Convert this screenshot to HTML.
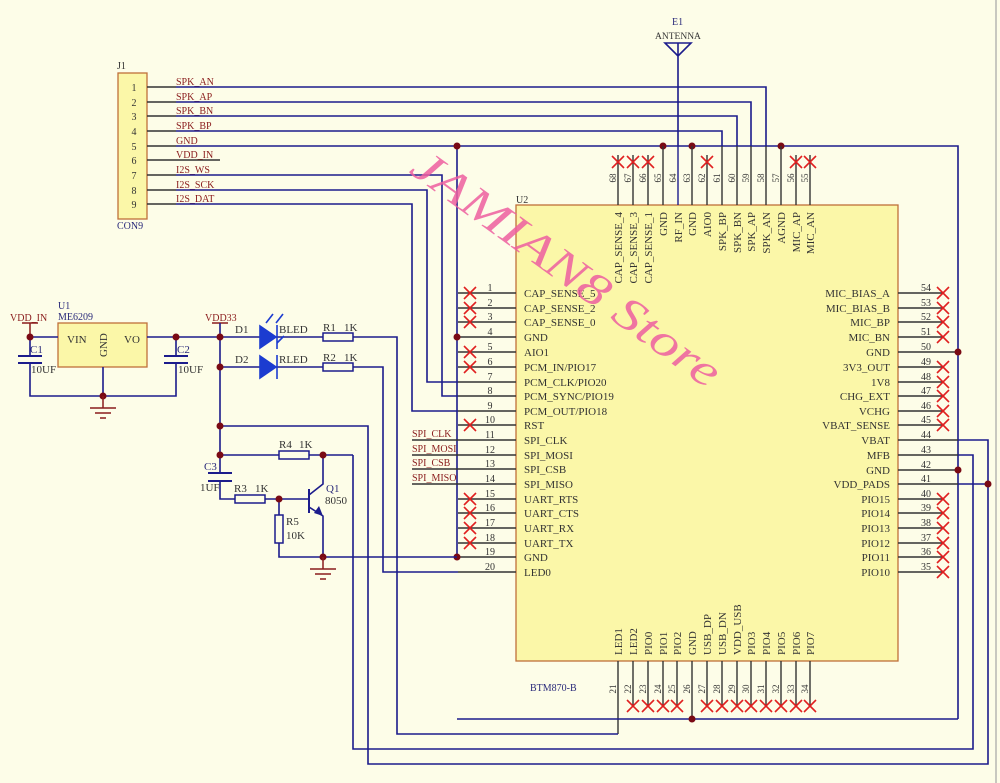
<!DOCTYPE html>
<html><head><meta charset="utf-8"><style>
html,body{margin:0;padding:0;background:#fdfde8;}
svg{display:block;font-family:"Liberation Serif",serif;}
.w{stroke:#1c1c8c;stroke-width:1.6;fill:none}
.p{stroke:#333;stroke-width:1.4;fill:none}
.n{font-size:10px;fill:#333}
.l{font-size:10px;fill:#8a1c1c}
.t{font-size:11px;fill:#333}
.x{stroke:#e02020;stroke-width:1.6}
.d{fill:#7a0a14}
</style></head><body>
<svg width="1000" height="783" viewBox="0 0 1000 783" xmlns="http://www.w3.org/2000/svg">
<defs>
<g id="X"><line class="x" x1="-6" y1="-6" x2="6" y2="6"/><line class="x" x1="-6" y1="6" x2="6" y2="-6"/></g>
<g id="G"><line x1="0" y1="0" x2="0" y2="12" stroke="#8a1c1c" stroke-width="1.5"/><line x1="-13" y1="12" x2="13" y2="12" stroke="#8a1c1c" stroke-width="1.5"/><line x1="-8" y1="17" x2="8" y2="17" stroke="#8a1c1c" stroke-width="1.5"/><line x1="-3" y1="22" x2="3" y2="22" stroke="#8a1c1c" stroke-width="1.5"/></g>
</defs>

<!-- J1 -->
<text x="117" y="69" class="t" style="font-size:10px">J1</text>
<rect x="118" y="73" width="29" height="146" fill="#fbf7a8" stroke="#c0703a" stroke-width="1.3"/>
<text x="117" y="229" class="t" style="font-size:10px;fill:#2a2a7a">CON9</text>
<g class="n" text-anchor="middle">
<text x="134" y="91">1</text><text x="134" y="106">2</text><text x="134" y="120">3</text><text x="134" y="135">4</text><text x="134" y="150">5</text><text x="134" y="164">6</text><text x="134" y="179">7</text><text x="134" y="194">8</text><text x="134" y="208">9</text>
</g>
<g class="p"><line x1="147" y1="87" x2="176" y2="87"/><line x1="147" y1="102" x2="176" y2="102"/><line x1="147" y1="116" x2="176" y2="116"/><line x1="147" y1="131" x2="176" y2="131"/><line x1="147" y1="146" x2="176" y2="146"/><line x1="147" y1="160" x2="220" y2="160"/><line x1="147" y1="175" x2="176" y2="175"/><line x1="147" y1="190" x2="176" y2="190"/><line x1="147" y1="204" x2="176" y2="204"/></g>
<g class="l">
<text x="176" y="85">SPK_AN</text><text x="176" y="100">SPK_AP</text><text x="176" y="114">SPK_BN</text><text x="176" y="129">SPK_BP</text><text x="176" y="144">GND</text><text x="176" y="158">VDD_IN</text><text x="176" y="173">I2S_WS</text><text x="176" y="188">I2S_SCK</text><text x="176" y="202">I2S_DAT</text>
</g>
<path class="w" d="M176 87H766V146 M176 102H751V146 M176 116H737V146 M176 131H722V146 M176 146H958V719 M176 175H442V396H458 M176 190H427V382H458 M176 204H412V411H458"/>
<path class="w" d="M457 146V557"/>
<circle class="d" cx="457" cy="146" r="3.5"/><circle class="d" cx="663" cy="146" r="3.5"/><circle class="d" cx="692" cy="146" r="3.5"/><circle class="d" cx="781" cy="146" r="3.5"/>

<!-- antenna -->
<text x="672" y="25" class="t" style="font-size:10px;fill:#2a2a7a">E1</text>
<text x="655" y="39" class="t" style="font-size:9.5px">ANTENNA</text>
<path class="w" d="M665 43H691L678 56Z M678 43V146"/>

<!-- U2 -->
<text x="516" y="203" class="t" style="font-size:10px">U2</text>
<rect x="516" y="205" width="382" height="456" fill="#fbf7a8" stroke="#c0703a" stroke-width="1.3"/>
<text x="530" y="691" style="font-size:10px;fill:#2a2a7a">BTM870-B</text>

<!-- top pins -->
<g class="p">
<line x1="618" y1="155" x2="618" y2="205"/><line x1="633" y1="155" x2="633" y2="205"/><line x1="648" y1="155" x2="648" y2="205"/><line x1="663" y1="146" x2="663" y2="205"/><line x1="678" y1="146" x2="678" y2="205" stroke="#1c1c8c"/><line x1="692" y1="146" x2="692" y2="205"/><line x1="707" y1="155" x2="707" y2="205"/><line x1="722" y1="146" x2="722" y2="205"/><line x1="737" y1="146" x2="737" y2="205"/><line x1="751" y1="146" x2="751" y2="205"/><line x1="766" y1="146" x2="766" y2="205"/><line x1="781" y1="146" x2="781" y2="205"/><line x1="796" y1="155" x2="796" y2="205"/><line x1="810" y1="155" x2="810" y2="205"/>
</g>
<use href="#X" x="618" y="162"/><use href="#X" x="633" y="162"/><use href="#X" x="648" y="162"/><use href="#X" x="707" y="162"/><use href="#X" x="796" y="162"/><use href="#X" x="810" y="162"/>
<g class="n" style="font-size:9px" text-anchor="middle">
<text transform="translate(616,178) rotate(-90)">68</text><text transform="translate(631,178) rotate(-90)">67</text><text transform="translate(646,178) rotate(-90)">66</text><text transform="translate(661,178) rotate(-90)">65</text><text transform="translate(676,178) rotate(-90)">64</text><text transform="translate(690,178) rotate(-90)">63</text><text transform="translate(705,178) rotate(-90)">62</text><text transform="translate(720,178) rotate(-90)">61</text><text transform="translate(735,178) rotate(-90)">60</text><text transform="translate(749,178) rotate(-90)">59</text><text transform="translate(764,178) rotate(-90)">58</text><text transform="translate(779,178) rotate(-90)">57</text><text transform="translate(794,178) rotate(-90)">56</text><text transform="translate(808,178) rotate(-90)">55</text>
</g>
<g class="t" text-anchor="end">
<text transform="translate(622,212) rotate(-90)">CAP_SENSE_4</text><text transform="translate(637,212) rotate(-90)">CAP_SENSE_3</text><text transform="translate(652,212) rotate(-90)">CAP_SENSE_1</text><text transform="translate(667,212) rotate(-90)">GND</text><text transform="translate(682,212) rotate(-90)">RF_IN</text><text transform="translate(696,212) rotate(-90)">GND</text><text transform="translate(711,212) rotate(-90)">AIO0</text><text transform="translate(726,212) rotate(-90)">SPK_BP</text><text transform="translate(741,212) rotate(-90)">SPK_BN</text><text transform="translate(755,212) rotate(-90)">SPK_AP</text><text transform="translate(770,212) rotate(-90)">SPK_AN</text><text transform="translate(785,212) rotate(-90)">AGND</text><text transform="translate(800,212) rotate(-90)">MIC_AP</text><text transform="translate(814,212) rotate(-90)">MIC_AN</text>
</g>

<!-- bottom pins -->
<g class="p">
<line x1="618" y1="661" x2="618" y2="734"/><line x1="633" y1="661" x2="633" y2="705"/><line x1="648" y1="661" x2="648" y2="705"/><line x1="663" y1="661" x2="663" y2="705"/><line x1="677" y1="661" x2="677" y2="705"/><line x1="692" y1="661" x2="692" y2="719"/><line x1="707" y1="661" x2="707" y2="705"/><line x1="722" y1="661" x2="722" y2="705"/><line x1="737" y1="661" x2="737" y2="705"/><line x1="751" y1="661" x2="751" y2="705"/><line x1="766" y1="661" x2="766" y2="705"/><line x1="781" y1="661" x2="781" y2="705"/><line x1="796" y1="661" x2="796" y2="705"/><line x1="810" y1="661" x2="810" y2="705"/>
</g>
<use href="#X" x="633" y="706"/><use href="#X" x="648" y="706"/><use href="#X" x="663" y="706"/><use href="#X" x="677" y="706"/><use href="#X" x="707" y="706"/><use href="#X" x="722" y="706"/><use href="#X" x="737" y="706"/><use href="#X" x="751" y="706"/><use href="#X" x="766" y="706"/><use href="#X" x="781" y="706"/><use href="#X" x="796" y="706"/><use href="#X" x="810" y="706"/>
<g class="n" style="font-size:9px" text-anchor="middle">
<text transform="translate(616,689) rotate(-90)">21</text><text transform="translate(631,689) rotate(-90)">22</text><text transform="translate(646,689) rotate(-90)">23</text><text transform="translate(661,689) rotate(-90)">24</text><text transform="translate(675,689) rotate(-90)">25</text><text transform="translate(690,689) rotate(-90)">26</text><text transform="translate(705,689) rotate(-90)">27</text><text transform="translate(720,689) rotate(-90)">28</text><text transform="translate(735,689) rotate(-90)">29</text><text transform="translate(749,689) rotate(-90)">30</text><text transform="translate(764,689) rotate(-90)">31</text><text transform="translate(779,689) rotate(-90)">32</text><text transform="translate(794,689) rotate(-90)">33</text><text transform="translate(808,689) rotate(-90)">34</text>
</g>
<g class="t">
<text transform="translate(622,655) rotate(-90)">LED1</text><text transform="translate(637,655) rotate(-90)">LED2</text><text transform="translate(652,655) rotate(-90)">PIO0</text><text transform="translate(667,655) rotate(-90)">PIO1</text><text transform="translate(681,655) rotate(-90)">PIO2</text><text transform="translate(696,655) rotate(-90)">GND</text><text transform="translate(711,655) rotate(-90)">USB_DP</text><text transform="translate(726,655) rotate(-90)">USB_DN</text><text transform="translate(741,655) rotate(-90)">VDD_USB</text><text transform="translate(755,655) rotate(-90)">PIO3</text><text transform="translate(770,655) rotate(-90)">PIO4</text><text transform="translate(785,655) rotate(-90)">PIO5</text><text transform="translate(800,655) rotate(-90)">PIO6</text><text transform="translate(814,655) rotate(-90)">PIO7</text>
</g>

<!-- left pins -->
<g class="p">
<line x1="458" y1="293" x2="516" y2="293"/><line x1="458" y1="308" x2="516" y2="308"/><line x1="458" y1="322" x2="516" y2="322"/><line x1="458" y1="337" x2="516" y2="337"/><line x1="458" y1="352" x2="516" y2="352"/><line x1="458" y1="367" x2="516" y2="367"/><line x1="458" y1="382" x2="516" y2="382"/><line x1="458" y1="396" x2="516" y2="396"/><line x1="458" y1="411" x2="516" y2="411"/><line x1="458" y1="425" x2="516" y2="425"/><line x1="458" y1="440" x2="516" y2="440"/><line x1="458" y1="455" x2="516" y2="455"/><line x1="458" y1="469" x2="516" y2="469"/><line x1="458" y1="484" x2="516" y2="484"/><line x1="458" y1="499" x2="516" y2="499"/><line x1="458" y1="513" x2="516" y2="513"/><line x1="458" y1="528" x2="516" y2="528"/><line x1="458" y1="543" x2="516" y2="543"/><line x1="458" y1="557" x2="516" y2="557"/><line x1="458" y1="572" x2="516" y2="572"/>
</g>
<use href="#X" x="470" y="293"/><use href="#X" x="470" y="308"/><use href="#X" x="470" y="322"/><use href="#X" x="470" y="352"/><use href="#X" x="470" y="367"/><use href="#X" x="470" y="425"/><use href="#X" x="470" y="499"/><use href="#X" x="470" y="513"/><use href="#X" x="470" y="528"/><use href="#X" x="470" y="543"/>
<g class="n" text-anchor="middle">
<text x="490" y="291">1</text><text x="490" y="306">2</text><text x="490" y="320">3</text><text x="490" y="335">4</text><text x="490" y="350">5</text><text x="490" y="365">6</text><text x="490" y="380">7</text><text x="490" y="394">8</text><text x="490" y="409">9</text><text x="490" y="423">10</text><text x="490" y="438">11</text><text x="490" y="453">12</text><text x="490" y="467">13</text><text x="490" y="482">14</text><text x="490" y="497">15</text><text x="490" y="511">16</text><text x="490" y="526">17</text><text x="490" y="541">18</text><text x="490" y="555">19</text><text x="490" y="570">20</text>
</g>
<g class="t">
<text x="524" y="297">CAP_SENSE_5</text><text x="524" y="312">CAP_SENSE_2</text><text x="524" y="326">CAP_SENSE_0</text><text x="524" y="341">GND</text><text x="524" y="356">AIO1</text><text x="524" y="371">PCM_IN/PIO17</text><text x="524" y="386">PCM_CLK/PIO20</text><text x="524" y="400">PCM_SYNC/PIO19</text><text x="524" y="415">PCM_OUT/PIO18</text><text x="524" y="429">RST</text><text x="524" y="444">SPI_CLK</text><text x="524" y="459">SPI_MOSI</text><text x="524" y="473">SPI_CSB</text><text x="524" y="488">SPI_MISO</text><text x="524" y="503">UART_RTS</text><text x="524" y="517">UART_CTS</text><text x="524" y="532">UART_RX</text><text x="524" y="547">UART_TX</text><text x="524" y="561">GND</text><text x="524" y="576">LED0</text>
</g>
<g class="p" stroke="#1c1c8c"><line x1="412" y1="440" x2="458" y2="440"/><line x1="412" y1="455" x2="458" y2="455"/><line x1="412" y1="469" x2="458" y2="469"/><line x1="412" y1="484" x2="458" y2="484"/></g>
<g class="l"><text x="412" y="437">SPI_CLK</text><text x="412" y="452">SPI_MOSI</text><text x="412" y="466">SPI_CSB</text><text x="412" y="481">SPI_MISO</text></g>
<circle class="d" cx="457" cy="337" r="3.5"/><circle class="d" cx="457" cy="557" r="3.5"/>

<!-- right pins -->
<g class="p">
<line x1="898" y1="293" x2="943" y2="293"/><line x1="898" y1="308" x2="943" y2="308"/><line x1="898" y1="322" x2="943" y2="322"/><line x1="898" y1="337" x2="943" y2="337"/><line x1="898" y1="352" x2="958" y2="352"/><line x1="898" y1="367" x2="943" y2="367"/><line x1="898" y1="382" x2="943" y2="382"/><line x1="898" y1="396" x2="943" y2="396"/><line x1="898" y1="411" x2="943" y2="411"/><line x1="898" y1="425" x2="943" y2="425"/><line x1="898" y1="440" x2="958" y2="440"/><line x1="898" y1="455" x2="958" y2="455"/><line x1="898" y1="470" x2="958" y2="470"/><line x1="898" y1="484" x2="958" y2="484"/><line x1="898" y1="499" x2="943" y2="499"/><line x1="898" y1="513" x2="943" y2="513"/><line x1="898" y1="528" x2="943" y2="528"/><line x1="898" y1="543" x2="943" y2="543"/><line x1="898" y1="557" x2="943" y2="557"/><line x1="898" y1="572" x2="943" y2="572"/>
</g>
<use href="#X" x="943" y="293"/><use href="#X" x="943" y="308"/><use href="#X" x="943" y="322"/><use href="#X" x="943" y="337"/><use href="#X" x="943" y="367"/><use href="#X" x="943" y="382"/><use href="#X" x="943" y="396"/><use href="#X" x="943" y="411"/><use href="#X" x="943" y="425"/><use href="#X" x="943" y="499"/><use href="#X" x="943" y="513"/><use href="#X" x="943" y="528"/><use href="#X" x="943" y="543"/><use href="#X" x="943" y="557"/><use href="#X" x="943" y="572"/>
<g class="n" text-anchor="middle">
<text x="926" y="291">54</text><text x="926" y="306">53</text><text x="926" y="320">52</text><text x="926" y="335">51</text><text x="926" y="350">50</text><text x="926" y="365">49</text><text x="926" y="380">48</text><text x="926" y="394">47</text><text x="926" y="409">46</text><text x="926" y="423">45</text><text x="926" y="438">44</text><text x="926" y="453">43</text><text x="926" y="468">42</text><text x="926" y="482">41</text><text x="926" y="497">40</text><text x="926" y="511">39</text><text x="926" y="526">38</text><text x="926" y="541">37</text><text x="926" y="555">36</text><text x="926" y="570">35</text>
</g>
<g class="t" text-anchor="end">
<text x="890" y="297">MIC_BIAS_A</text><text x="890" y="312">MIC_BIAS_B</text><text x="890" y="326">MIC_BP</text><text x="890" y="341">MIC_BN</text><text x="890" y="356">GND</text><text x="890" y="371">3V3_OUT</text><text x="890" y="386">1V8</text><text x="890" y="400">CHG_EXT</text><text x="890" y="415">VCHG</text><text x="890" y="429">VBAT_SENSE</text><text x="890" y="444">VBAT</text><text x="890" y="459">MFB</text><text x="890" y="474">GND</text><text x="890" y="488">VDD_PADS</text><text x="890" y="503">PIO15</text><text x="890" y="517">PIO14</text><text x="890" y="532">PIO13</text><text x="890" y="547">PIO12</text><text x="890" y="561">PIO11</text><text x="890" y="576">PIO10</text>
</g>
<path class="w" d="M958 440H988V764H368V426H220 M958 455H973V749H353V455 M958 484H988 M958 719H457"/>
<circle class="d" cx="958" cy="352" r="3.5"/><circle class="d" cx="958" cy="470" r="3.5"/><circle class="d" cx="988" cy="484" r="3.5"/><circle class="d" cx="692" cy="719" r="3.5"/>
<line x1="996" y1="0" x2="996" y2="783" stroke="#c8c8c0" stroke-width="2"/>

<!-- regulator -->
<text x="10" y="321" class="l">VDD_IN</text>
<line x1="22" y1="323" x2="38" y2="323" stroke="#8a1c1c" stroke-width="1.5"/>
<line x1="30" y1="323" x2="30" y2="337" stroke="#8a1c1c" stroke-width="1.5"/>
<text x="58" y="309" class="t" style="fill:#2a2a7a;font-size:10px">U1</text>
<text x="58" y="320" class="t" style="fill:#2a2a7a;font-size:10px">ME6209</text>
<rect x="58" y="323" width="89" height="44" fill="#fbf7a8" stroke="#c0703a" stroke-width="1.3"/>
<text x="67" y="343" class="t">VIN</text><text x="124" y="343" class="t">VO</text>
<text transform="translate(107,357) rotate(-90)" class="t">GND</text>
<path class="w" d="M30 337H58 M147 337H260 M30 337V355 M30 364V396H176V364 M176 355V337 M103 367V396"/>
<path stroke="#1c1c8c" stroke-width="2" d="M18 356H42 M18 363H42 M164 356H188 M164 363H188"/>
<text x="30" y="353" class="t" style="fill:#2a2a7a">C1</text><text x="31" y="373" class="t">10UF</text>
<text x="177" y="353" class="t" style="fill:#2a2a7a">C2</text><text x="178" y="373" class="t">10UF</text>
<circle class="d" cx="30" cy="337" r="3.5"/><circle class="d" cx="103" cy="396" r="3.5"/><circle class="d" cx="176" cy="337" r="3.5"/>
<use href="#G" x="103" y="396"/>

<!-- VDD33 & LEDs -->
<text x="205" y="321" class="l">VDD33</text>
<line x1="212" y1="323" x2="228" y2="323" stroke="#8a1c1c" stroke-width="1.5"/>
<path class="w" d="M220 323V473 M220 481V499H235 M265 499H309 M279 499V515 M279 543V557H457 M220 367H260 M220 455H279 M309 455H353 M276 337H323 M353 337H397V734H618 M276 367H323 M353 367H383V572H458"/>
<circle class="d" cx="220" cy="337" r="3.5"/><circle class="d" cx="220" cy="367" r="3.5"/><circle class="d" cx="220" cy="426" r="3.5"/><circle class="d" cx="220" cy="455" r="3.5"/>
<g fill="#1c3cd0" stroke="#1c3cd0" stroke-width="1.6">
<path d="M260 326L276 337L260 348Z"/><line x1="277" y1="325" x2="277" y2="349"/>
<path d="M260 356L276 367L260 378Z"/><line x1="277" y1="355" x2="277" y2="379"/>
<line x1="266" y1="323" x2="273" y2="314"/><line x1="276" y1="323" x2="283" y2="314"/>
<line x1="277" y1="343" x2="284" y2="336"/>
</g>
<text x="235" y="333" class="t">D1</text><text x="279" y="333" class="t">BLED</text>
<text x="235" y="363" class="t">D2</text><text x="279" y="363" class="t">RLED</text>
<g fill="#fdfde8" stroke="#1c1c8c" stroke-width="1.5">
<rect x="323" y="333" width="30" height="8"/><rect x="323" y="363" width="30" height="8"/><rect x="279" y="451" width="30" height="8"/><rect x="235" y="495" width="30" height="8"/><rect x="275" y="515" width="8" height="28"/>
</g>
<text x="323" y="331" class="t">R1</text><text x="344" y="331" class="t">1K</text>
<text x="323" y="361" class="t">R2</text><text x="344" y="361" class="t">1K</text>
<text x="279" y="448" class="t">R4</text><text x="299" y="448" class="t">1K</text>
<text x="234" y="492" class="t">R3</text><text x="255" y="492" class="t">1K</text>
<text x="286" y="525" class="t">R5</text><text x="286" y="539" class="t">10K</text>
<path stroke="#1c1c8c" stroke-width="2" d="M208 473H232 M208 481H232"/>
<text x="204" y="470" class="t" style="fill:#2a2a7a">C3</text><text x="200" y="491" class="t">1UF</text>
<circle class="d" cx="279" cy="499" r="3.5"/>
<!-- Q1 -->
<line x1="309" y1="489" x2="309" y2="513" stroke="#1c1c8c" stroke-width="2"/>
<path class="w" d="M309 495L323 484V455 M309 507L323 516V557"/>
<path d="M323 516L314 513L319 506Z" fill="#1c1c8c"/>
<text x="326" y="492" class="t" style="fill:#2a2a7a">Q1</text><text x="325" y="504" class="t">8050</text>
<circle class="d" cx="323" cy="455" r="3.5"/><circle class="d" cx="323" cy="557" r="3.5"/>
<use href="#G" x="323" y="557"/>

<!-- watermark -->
<text transform="translate(408,172) rotate(36)" textLength="370" lengthAdjust="spacingAndGlyphs" style="font-family:'Liberation Serif',serif;font-style:italic;font-size:46px;fill:#ee5fa0;opacity:0.85">JAMIAN8 Store</text>
</svg>
</body></html>
